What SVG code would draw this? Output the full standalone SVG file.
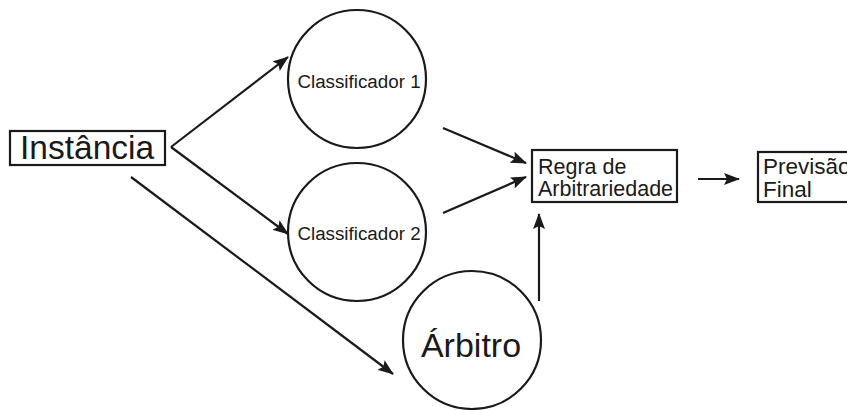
<svg xmlns="http://www.w3.org/2000/svg" width="847" height="410" viewBox="0 0 847 410">
  <style>
    .box { fill: #fff; stroke: #1a1a1a; stroke-width: 2.2; }
    .node { fill: #fff; stroke: #1a1a1a; stroke-width: 2.2; }
    .edge { stroke: #1a1a1a; stroke-width: 2.2; fill: none; marker-end: url(#arrow); }
    text { font-family: "Liberation Sans", Arial, sans-serif; fill: #1a1a1a; }
  </style>
  <defs>
    <marker id="arrow" viewBox="0 0 16 12" refX="15" refY="6" markerWidth="16" markerHeight="12" markerUnits="userSpaceOnUse" orient="auto">
      <path d="M0,0 L16,6 L0,12 L3,6 z" fill="#1a1a1a"/>
    </marker>
  </defs>
  <rect width="847" height="410" fill="#fff"/>

  <g id="instancia">
    <rect class="box" x="10" y="131" width="155" height="34"/>
    <text x="20" y="159" font-size="33.5">Instância</text>
  </g>

  <g id="classificador1">
    <circle class="node" cx="357" cy="79" r="69"/>
    <text x="359" y="88" font-size="18.8" text-anchor="middle">Classificador 1</text>
  </g>

  <g id="classificador2">
    <circle class="node" cx="357" cy="232" r="69"/>
    <text x="359" y="240" font-size="18.8" text-anchor="middle">Classificador 2</text>
  </g>

  <g id="arbitro">
    <circle class="node" cx="472" cy="340" r="69"/>
    <text x="471" y="357" font-size="34" text-anchor="middle">Árbitro</text>
  </g>

  <g id="regra">
    <rect class="box" x="532" y="150" width="145" height="52"/>
    <text x="538" y="174" font-size="21.5">Regra de</text>
    <text x="538" y="196" font-size="21.5">Arbitrariedade</text>
  </g>

  <g id="previsao">
    <rect class="box" x="758" y="152" width="100" height="50"/>
    <text x="763" y="174" font-size="22.5">Previsão</text>
    <text x="763" y="197" font-size="22.5">Final</text>
  </g>

  <g id="connectors">
    <path class="edge" d="M171,147 L288,57"/>
    <path class="edge" d="M171,147 L288,234"/>
    <path class="edge" d="M131,177 L393,374"/>
    <path class="edge" d="M443,128 L526,163"/>
    <path class="edge" d="M443,213 L526,177"/>
    <path class="edge" d="M539,301 L539,214"/>
    <path class="edge" d="M698,179 L739,179"/>
  </g>
</svg>
